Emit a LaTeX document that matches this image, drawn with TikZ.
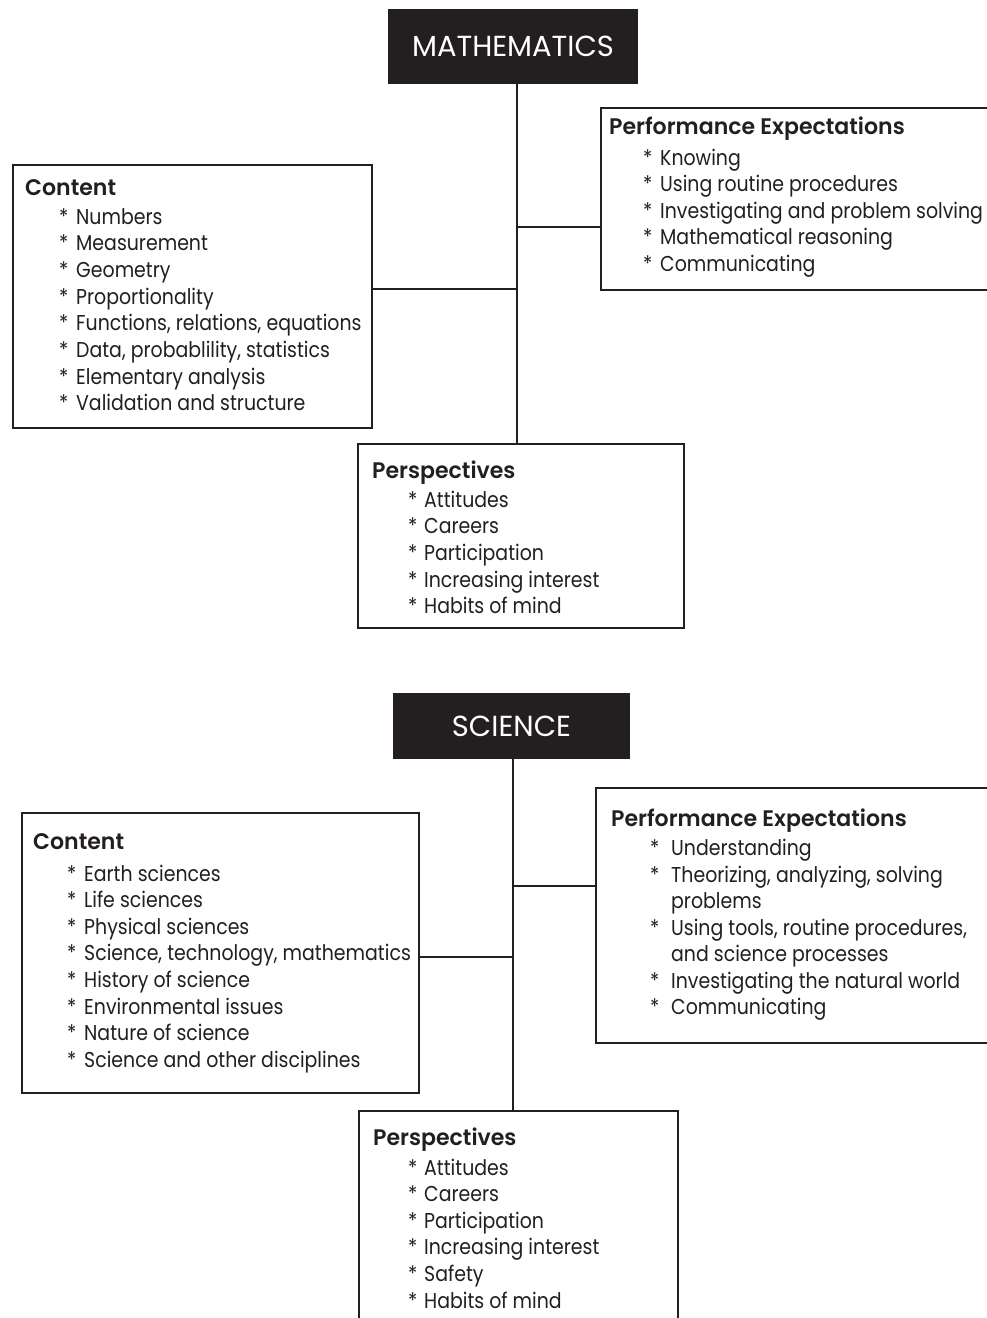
\documentclass[tikz,border=0pt]{standalone}
\usepackage{fontspec}
\setmainfont{Poppins}[FakeStretch=0.88]
\newfontfamily\headfont{Poppins SemiBold}[FakeStretch=0.98]
\newfontfamily\titlefont{Poppins}
\definecolor{ink}{HTML}{231F20}
\tikzset{
  frame/.style={draw=ink, line width=2.4pt, fill=white, rectangle, inner sep=0pt},
  titlebox/.style={fill=ink, draw=none, rectangle, inner sep=0pt, text=white, font=\titlefont\fontsize{29}{32}\selectfont},
  link/.style={draw=ink, line width=2.6pt},
  head/.style={text=ink, inner sep=0pt, anchor=base west, font=\headfont\fontsize{22.5}{26}\selectfont},
  itemtxt/.style={text=ink, inner sep=0pt, anchor=base west, font=\fontsize{21.5}{26}\selectfont},
}
\newcommand{\itemline}[5]{\node[itemtxt] (#1) at (#2,#3) {\makebox[#4][l]{*}#5};}
\begin{document}
\begin{tikzpicture}[x=1pt,y=-1pt]
\useasboundingbox (0,0) rectangle (987,1318);

% ===== MATHEMATICS =====
\coordinate (mx) at (517,0);
\coordinate (mperfy) at (0,227);
\coordinate (mconty) at (0,289);
\node[titlebox, minimum width=250pt, minimum height=75pt] (mtitle) at (513,46.5) {MATHEMATICS};
\draw[link] (mx |- mtitle.south) -- (mx |- 0,443);
\node[frame, minimum width=420pt, minimum height=182pt, anchor=north west] (mperf) at (600,107) {};
\node[frame, minimum width=359pt, minimum height=263pt, anchor=north west] (mcont) at (12,164) {};
\node[frame, minimum width=326pt, minimum height=184pt, anchor=north west] (mpersp) at (357,443) {};
\draw[link] (mx |- mperfy) -- (mperf.west |- mperfy);
\draw[link] (mx |- mconty) -- (mcont.east |- mconty);

\node[head] (mperfh) at (609,134) {Performance Expectations};
\foreach \t [count=\i from 0] in {Knowing, Using routine procedures, Investigating and problem solving, Mathematical reasoning, Communicating}
  \node[itemtxt] (mperf-\i) at (643,165+\i*26.5) {\makebox[17pt][l]{*}\t};

\node[head] (mconth) at (25,195) {Content};
\foreach \t [count=\i from 0] in {Numbers, Measurement, Geometry, Proportionality, {Functions, relations, equations}, {Data, probablility, statistics}, Elementary analysis, Validation and structure}
  \node[itemtxt] (mcont-\i) at (59,224+\i*26.7) {\makebox[17pt][l]{*}\t};

\node[head] (mpersph) at (372,478) {Perspectives};
\foreach \t [count=\i from 0] in {Attitudes, Careers, Participation, Increasing interest, Habits of mind}
  \node[itemtxt] (mpersp-\i) at (408,507+\i*26.7) {\makebox[16pt][l]{*}\t};

% ===== SCIENCE =====
\coordinate (sx) at (513,0);
\coordinate (sperfy) at (0,886);
\coordinate (sconty) at (0,957);
\node[titlebox, minimum width=237pt, minimum height=66pt] (stitle) at (511.5,726) {SCIENCE};
\draw[link] (sx |- stitle.south) -- (sx |- 0,1110);
\node[frame, minimum width=430pt, minimum height=255pt, anchor=north west] (sperf) at (595,787) {};
\node[frame, minimum width=397pt, minimum height=280pt, anchor=north west] (scont) at (21,812) {};
\node[frame, minimum width=319pt, minimum height=240pt, anchor=north west] (spersp) at (358,1110) {};
\draw[link] (sx |- sperfy) -- (sperf.west |- sperfy);
\draw[link] (sx |- sconty) -- (scont.east |- sconty);

\node[head] (sperfh) at (611,826) {Performance Expectations};
\itemline{sperf-0}{650}{855}{21pt}{Understanding}
\itemline{sperf-1}{650}{882}{21pt}{Theorizing, analyzing, solving}
\node[itemtxt] (sperf-1b) at (671,908.5) {problems};
\itemline{sperf-2}{650}{935}{21pt}{Using tools, routine procedures,}
\node[itemtxt] (sperf-2b) at (671,961.5) {and science processes};
\itemline{sperf-3}{650}{988}{21pt}{Investigating the natural world}
\itemline{sperf-4}{650}{1014.5}{21pt}{Communicating}

\node[head] (sconth) at (33,849) {Content};
\foreach \t [count=\i from 0] in {Earth sciences, Life sciences, Physical sciences, {Science, technology, mathematics}, History of science, Environmental issues, Nature of science, Science and other disciplines}
  \node[itemtxt] (scont-\i) at (67,881+\i*26.6) {\makebox[17pt][l]{*}\t};

\node[head] (spersph) at (373,1145) {Perspectives};
\foreach \t [count=\i from 0] in {Attitudes, Careers, Participation, Increasing interest, Safety, Habits of mind}
  \node[itemtxt] (spersp-\i) at (408,1175+\i*26.6) {\makebox[16pt][l]{*}\t};
\end{tikzpicture}
\end{document}
